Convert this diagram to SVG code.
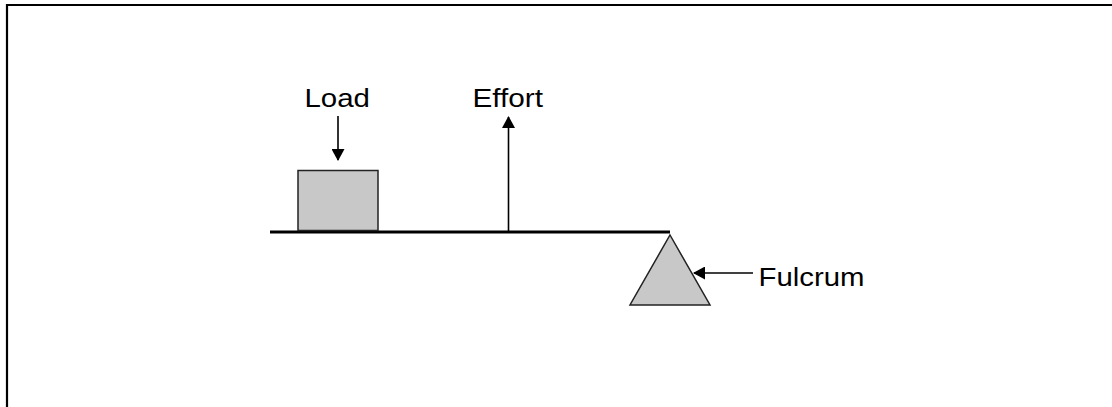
<svg xmlns="http://www.w3.org/2000/svg" width="1112" height="407" viewBox="0 0 1112 407">
  <style>
    .label { font-family: "Liberation Sans", Arial, sans-serif; font-size: 26px; fill: #000; }
    .shape { fill: #c8c8c8; stroke: #222; stroke-width: 1.5; }
    .arrow { stroke: #000; stroke-width: 1.6; fill: none; }
  </style>
  <defs>
    <marker id="head" viewBox="0 0 12 13" refX="11" refY="6.5" markerWidth="12" markerHeight="13" markerUnits="userSpaceOnUse" orient="auto">
      <path d="M0,0 L12,6.5 L0,13 Z" fill="#000"/>
    </marker>
  </defs>
  <rect width="1112" height="407" fill="#fff"/>

  <!-- frame -->
  <path d="M7,407 V5 H1112" fill="none" stroke="#000" stroke-width="2.2"/>

  <!-- lever beam -->
  <g id="beam">
    <line x1="270" y1="232" x2="670" y2="232" stroke="#000" stroke-width="3.2"/>
  </g>

  <!-- load block -->
  <g id="load-block">
    <rect class="shape" x="298" y="170.5" width="80" height="60"/>
  </g>

  <!-- fulcrum -->
  <g id="fulcrum">
    <polygon class="shape" points="670,235 710,305 630,305"/>
  </g>

  <g id="load-label">
    <text class="label" x="304.5" y="107" textLength="65.5" lengthAdjust="spacingAndGlyphs">Load</text>
  </g>
  <g id="effort-label">
    <text class="label" x="472.5" y="107" textLength="70.5" lengthAdjust="spacingAndGlyphs">Effort</text>
  </g>
  <g id="fulcrum-label">
    <text class="label" x="758.5" y="286" textLength="106" lengthAdjust="spacingAndGlyphs">Fulcrum</text>
  </g>

  <!-- force arrows -->
  <g id="connectors">
    <line class="arrow" x1="338" y1="116" x2="338" y2="160" marker-end="url(#head)"/>
    <line class="arrow" x1="508.5" y1="231" x2="508.5" y2="117" marker-end="url(#head)"/>
    <line class="arrow" x1="753" y1="273" x2="694" y2="273" marker-end="url(#head)"/>
  </g>
</svg>
